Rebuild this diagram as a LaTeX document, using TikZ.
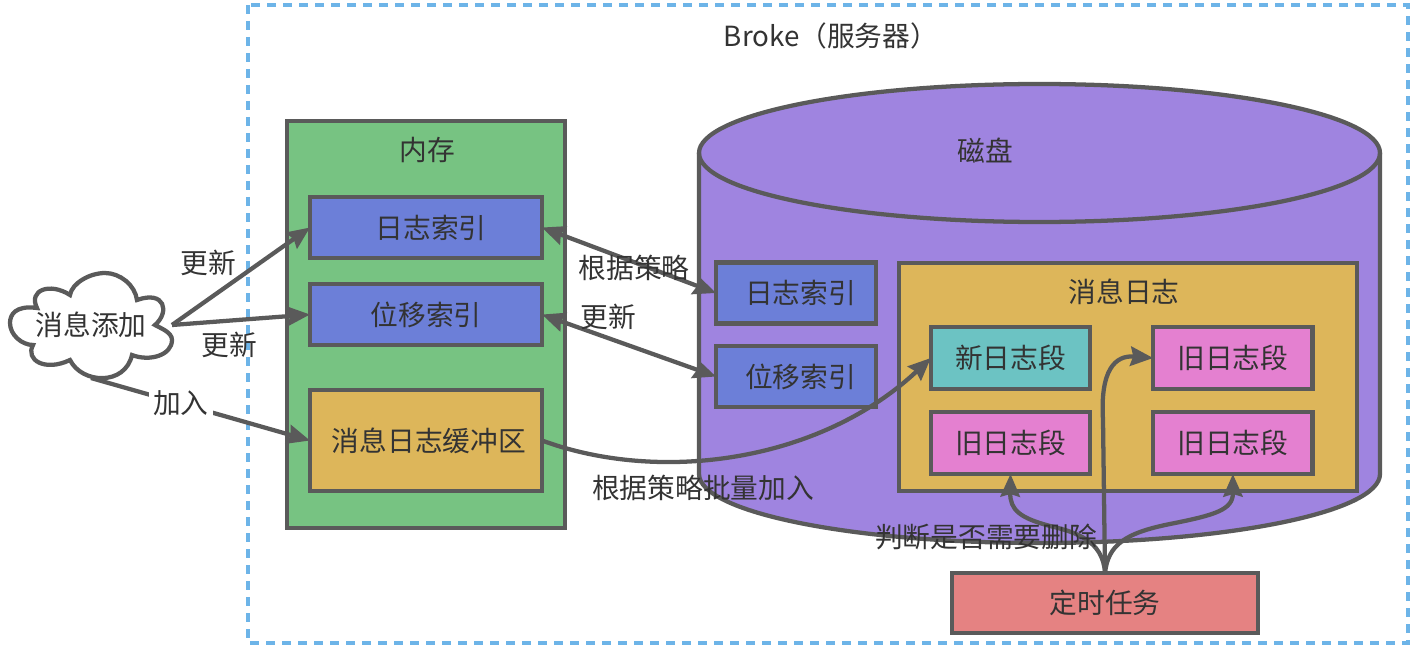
\documentclass[tikz,border=0pt]{standalone}
\usepackage{fontspec}
\usepackage{xcolor}
\usepackage{tikz}
\usetikzlibrary{arrows.meta,positioning}
\setmainfont{Noto Sans CJK SC}
\definecolor{linegray}{HTML}{5A5A5A}
\definecolor{textgray}{HTML}{333333}
\definecolor{brokeblue}{HTML}{6DB4E8}
\definecolor{memgreen}{HTML}{77C382}
\definecolor{indexblue}{HTML}{6C7FD8}
\definecolor{loggold}{HTML}{DDB65A}
\definecolor{diskpurple}{HTML}{9F84E0}
\definecolor{newteal}{HTML}{6CC3C3}
\definecolor{oldpink}{HTML}{E480D0}
\definecolor{taskred}{HTML}{E58282}
\tikzset{
  box/.style={draw=linegray, line width=3.2pt, align=center, text=textgray, inner sep=0pt, outer sep=0pt},
  memindex/.style={box, fill=indexblue, minimum width=174pt, minimum height=45.75pt},
  diskindex/.style={box, fill=indexblue, minimum width=120pt, minimum height=45.75pt},
  segment/.style={box, minimum width=119.5pt, minimum height=46.5pt},
  label/.style={text=textgray, inner sep=0pt},
  arrow/.style={-{Stealth[length=17pt, width=14.5pt, inset=2pt]}, line width=3.2pt, draw=linegray},
  twoway/.style={{Stealth[length=17pt, width=14.5pt, inset=2pt]}-{Stealth[length=17pt, width=14.5pt, inset=2pt]}, line width=3.2pt, draw=linegray}
}
\begin{document}
\begin{tikzpicture}[x=0.75pt, y=-0.75pt, font=\fontsize{20.8pt}{24pt}\selectfont, node distance=17.25pt and 47.25pt]
  \useasboundingbox (0,0) rectangle (1424,649);
  \draw[brokeblue, line width=3pt, dash pattern=on 6.75pt off 5.25pt] (248,5) rectangle (1408,643);
  \node[label] (broke) at (831,36) {Broke（服务器）};

  % memory
  \node[box, fill=memgreen, minimum width=208.5pt, minimum height=305.25pt] (mem) at (426,324.5) {};
  \node[label] (memtitle) at (427,150) {内存};
  \node[memindex] (memlog) at (426,227.5) {\hspace*{7.5pt}日志索引};
  \node[memindex] (memoffset) at (426,314.5) {位移索引};
  \node[box, fill=loggold, minimum width=174pt, minimum height=75.75pt] (membuf) at (426,440.5) {\hspace*{4.5pt}消息日志缓冲区};

  % disk
  \draw[draw=linegray, line width=3.2pt, fill=diskpurple] (699,153) arc[start angle=180, end angle=360, x radius=340.5, y radius=69] -- (1380,474) arc[start angle=0, end angle=180, x radius=340.5, y radius=69] -- cycle;
  \draw[draw=linegray, line width=3.2pt] (699,153) arc[start angle=180, end angle=0, x radius=340.5, y radius=69];
  \node[label] (disktitle) at (985,151) {磁盘};
  \node[diskindex] (disklog) at (796,293) {\hspace*{7pt}日志索引};
  \node[diskindex] (diskoffset) at (796,376.5) {\hspace*{7pt}位移索引};
  \node[box, fill=loggold, minimum width=343.5pt, minimum height=171pt] (msglog) at (1128,377) {};
  \node[label] (msgtitle) at (1124,292) {消息日志};
  \node[segment, fill=newteal] (newseg) at (1010.5,358) {新日志段};
  \node[segment, fill=oldpink, right=of newseg] (oldb) {旧日志段};
  \node[segment, fill=oldpink, below=of newseg] (olda) {旧日志段};
  \node[segment, fill=oldpink, below=of oldb] (oldc) {旧日志段};
  \node[box, fill=taskred, minimum width=229.5pt, minimum height=45pt] (task) at (1105,603) {定时任务};

  % message add
  \draw[draw=linegray, line width=3.2pt, fill=white] (37,308) .. controls (15,305) and (10,315) .. (10,323) .. controls (10,335) and (22,345) .. (33,345)
    .. controls (25,360) and (45,372) .. (70,360) .. controls (82,384) and (125,386) .. (132,355)
    .. controls (150,362) and (172,355) .. (172,340) .. controls (172,332) and (160,328) .. (155,325)
    .. controls (170,312) and (165,290) .. (137,300) .. controls (135,285) and (120,273) .. (105,273)
    .. controls (90,273) and (72,283) .. (70,295) .. controls (50,282) and (28,290) .. (37,308) -- cycle;
  \node[label, minimum width=121.5pt, minimum height=79.5pt, outer sep=0pt] (msgadd) at (91,325) {消息添加};

  \draw[arrow] (msgadd.east) -- (memlog.west);
  \draw[arrow] (msgadd.east) -- (memoffset.west);
  \draw[arrow] (msgadd.south) -- node[pos=0.41, label, fill=white, inner xsep=3pt] (addlabel) {加入} (membuf.west);
  \draw[twoway] (memlog.east) -- (disklog.west);
  \draw[twoway] (memoffset.east) -- (diskoffset.west);
  \draw[arrow] (membuf.east) .. controls (660,484) and (820,462) .. (newseg.west);
  \draw[arrow] (task.north) .. controls (1103,540) and (1075,532) .. (1050,526) .. controls (1020,518) and (1010,510) .. (olda.south);
  \draw[arrow] (task.north) .. controls (1108,545) and (1125,533) .. (1170,524) .. controls (1215,515) and (1233,510) .. (oldc.south);
  \draw[arrow] (task.north) -- (1103,420) .. controls (1100,370) and (1115,355) .. (oldb.west);

  \node[label] (update1) at (208,263) {更新};
  \node[label] (update2) at (229,345) {更新};
  \node[label] (strategy) at (634,268) {根据策略};
  \node[label] (update3) at (608,317) {更新};
  \node[label] (batch) at (703,488) {根据策略批量加入};
  \node[label] (judge) at (986,537) {判断是否需要删除};
\end{tikzpicture}
\end{document}
